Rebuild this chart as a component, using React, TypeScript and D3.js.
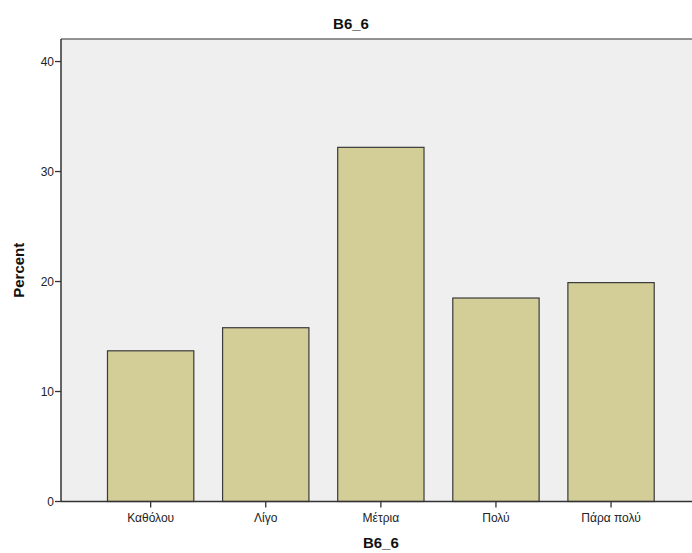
import React from "react";
import * as d3 from "d3";

const categories = ["Καθόλου", "Λίγο", "Μέτρια", "Πολύ", "Πάρα πολύ"];
const percents = [13.7, 15.8, 32.2, 18.5, 19.9];
const yTicks = [0, 10, 20, 30, 40];
const chartTitle = "B6_6";
const xTitle = "B6_6";
const yTitle = "Percent";

const W = 692;
const H = 553;
const plotLeft = 61;
const plotTop = 39;
const plotBottom = 501.5;

export default function App() {
  const x = d3
    .scaleBand<string>()
    .domain(categories)
    .range([93.1, 668.6])
    .paddingInner(0.25)
    .paddingOuter(0.125);
  const y = d3.scaleLinear().domain([0, 42.05]).range([plotBottom, plotTop]);
  const font = "Arial, 'Liberation Sans', sans-serif";
  const xCenter = (x(categories[0])! + x(categories[categories.length - 1])! + x.bandwidth()) / 2;

  return (
    <svg
      width={W}
      height={H}
      style={{ position: "absolute", left: 0, top: 0, background: "#fff" }}
      fontFamily={font}
    >
      <rect x={plotLeft} y={plotTop} width={W - plotLeft} height={plotBottom - plotTop} fill="#efefef" />
      <line x1={plotLeft} x2={W} y1={plotTop} y2={plotTop} stroke="#707070" strokeWidth={1.5} />
      {categories.map((c, i) => (
        <rect
          key={c}
          x={x(c)!}
          y={y(percents[i])}
          width={x.bandwidth()}
          height={plotBottom - y(percents[i])}
          fill="#d3ce97"
          stroke="#3a3a3a"
          strokeWidth={1.2}
        />
      ))}
      <line x1={plotLeft} x2={plotLeft} y1={plotTop} y2={plotBottom} stroke="#333" strokeWidth={1.5} />
      <line x1={plotLeft} x2={W} y1={plotBottom} y2={plotBottom} stroke="#333" strokeWidth={1.5} />
      {yTicks.map((t) => (
        <g key={t}>
          <line x1={plotLeft - 6} x2={plotLeft} y1={y(t)} y2={y(t)} stroke="#333" strokeWidth={1.3} />
          <text x={plotLeft - 7} y={y(t)} dy="0.35em" textAnchor="end" fontSize={12} fill="#222">
            {t}
          </text>
        </g>
      ))}
      {categories.map((c) => {
        const cx = x(c)! + x.bandwidth() / 2;
        return (
          <g key={c}>
            <line x1={cx} x2={cx} y1={plotBottom} y2={plotBottom + 6} stroke="#333" strokeWidth={1.3} />
            <text x={cx} y={522} textAnchor="middle" fontSize={12} fill="#222">
              {c}
            </text>
          </g>
        );
      })}
      <text x={351} y={29} textAnchor="middle" fontSize={15} fontWeight="bold" fill="#111">
        {chartTitle}
      </text>
      <text x={xCenter} y={548} textAnchor="middle" fontSize={15} fontWeight="bold" fill="#111">
        {xTitle}
      </text>
      <text
        transform={`translate(24, ${(plotTop + plotBottom) / 2}) rotate(-90)`}
        textAnchor="middle"
        fontSize={15}
        fontWeight="bold"
        fill="#111"
      >
        {yTitle}
      </text>
    </svg>
  );
}
